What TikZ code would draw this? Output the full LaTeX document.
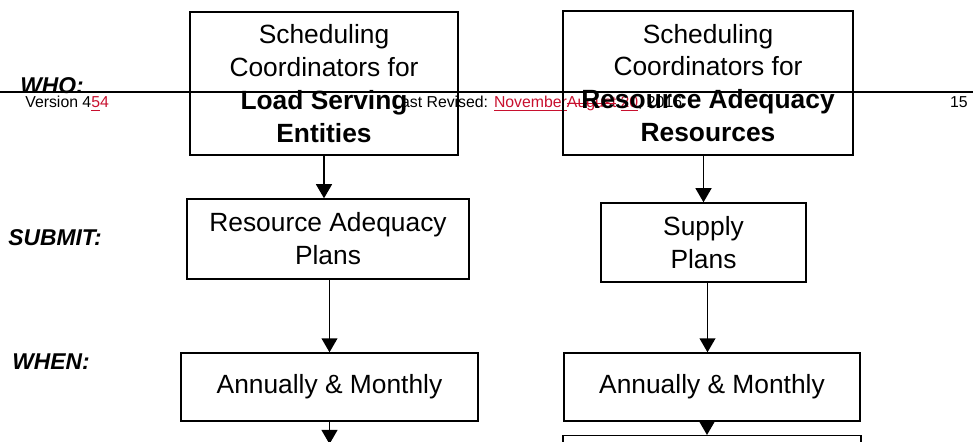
\documentclass[tikz,border=0pt]{standalone}
\usepackage{fontspec}
\setmainfont{Liberation Sans}
\usetikzlibrary{arrows.meta}
\definecolor{revred}{RGB}{200,16,46}
\newcommand\revins[1]{\underline{#1}}
\newcommand\revdel[1]{\setbox0\hbox{#1}\rlap{\rule[0.28em]{\wd0}{0.45pt}}\box0}

\tikzset{
  box/.style={draw, line width=0.8pt, align=center, inner sep=0pt,
    font=\fontsize{15}{18.7}\selectfont},
  rowlabel/.style={anchor=west, inner sep=0pt, font=\fontsize{13}{15}\selectfont\bfseries\itshape},
  hdr/.style={anchor=base west, inner sep=0pt, font=\fontsize{9}{11}\selectfont},
  flow/.style={-{Triangle[width=9pt,length=8pt]}, line width=1pt}
}

\begin{document}
\begin{tikzpicture}[x=0.02cm,y=-0.02cm]
  \useasboundingbox (0,0) rectangle (973,442);
  \clip (0,0) rectangle (973,442);

  % page header
  \draw[line width=1.5pt] (0,92) -- (973,92);
  \node[hdr] (ver) at (25,108) {Version 4{\color{revred}\revins{5}4}};
  \node[hdr] (rev) at (392,108) {Last Revised: {\color{revred}\revins{November}\revdel{August}} {\color{revred}\revins{20}}, 2016};
  \node[hdr, anchor=base east] (pg) at (968,108) {15};

  % row labels
  \node[rowlabel] (who) at (20,86) {WHO:};
  \node[rowlabel] (submit) at (8,238) {SUBMIT:};
  \node[rowlabel] (when) at (12,362) {WHEN:};

  % left column
  \node[box, minimum width=5.36cm, minimum height=2.86cm] (lse) at (324,83.5)
    {Scheduling\\Coordinators for\\\textbf{Load Serving}\\\textbf{Entities}};
  \node[box, minimum width=5.64cm, minimum height=1.6cm] (raplan) at (328,239)
    {Resource Adequacy\\Plans};
  \node[box, minimum width=5.94cm, minimum height=1.36cm] (annl) at (329.5,387)
    {Annually \& Monthly};
  \coordinate (endl) at (329.5,444);

  % right column
  \node[box, minimum width=5.8cm, minimum height=2.88cm] (rar) at (708,83)
    {Scheduling\\Coordinators for\\\textbf{Resource Adequacy}\\\textbf{Resources}};
  \node[box, minimum width=4.1cm, minimum height=1.58cm] (supply) at (703.5,242.5)
    {Supply\\Plans};
  \node[box, minimum width=5.92cm, minimum height=1.36cm] (annr) at (712,387)
    {Annually \& Monthly};
  \node[box, minimum width=5.96cm, minimum height=1.2cm, anchor=north] (next) at (712,435) {};

  \draw[flow] (lse.south) -- (lse.south |- raplan.north);
  \draw[flow] (raplan.south -| annl.north) -- (annl.north);
  \draw[flow] (annl.south) -- (endl);
  \draw[flow] (rar.south -| supply.north) -- (supply.north);
  \draw[flow] ([xshift=0.08cm]supply.south) -- ([xshift=0.08cm]supply.south |- annr.north);
  \draw[flow] ([xshift=-0.1cm]annr.south) -- ([xshift=-0.1cm]annr.south |- next.north);
\end{tikzpicture}
\end{document}
